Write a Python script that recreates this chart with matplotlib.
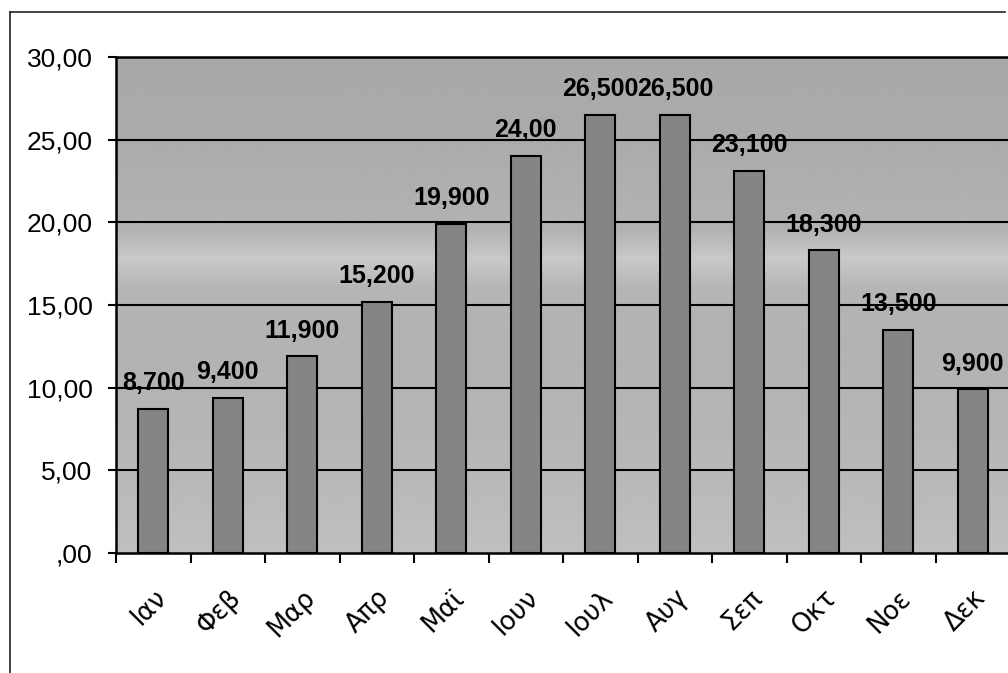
import matplotlib

matplotlib.use("Agg")
import matplotlib.pyplot as plt
import numpy as np
from matplotlib.lines import Line2D

plt.rcParams["font.family"] = ["Liberation Sans", "DejaVu Sans"]

# Data
months = ["Ιαν", "Φεβ", "Μαρ", "Απρ", "Μαϊ", "Ιουν",
          "Ιουλ", "Αυγ", "Σεπ", "Οκτ", "Νοε", "Δεκ"]
values = [8.7, 9.4, 11.9, 15.2, 19.9, 24.0, 26.5, 26.5, 23.1, 18.3, 13.5, 9.9]
value_labels = ["8,700", "9,400", "11,900", "15,200", "19,900", "24,00",
                "26,500", "26,500", "23,100", "18,300", "13,500", "9,900"]
y_ticks = [0, 5, 10, 15, 20, 25, 30]
y_tick_labels = [",00", "5,00", "10,00", "15,00", "20,00", "25,00", "30,00"]

fig = plt.figure(figsize=(10.08, 6.73), dpi=100)
ax = fig.add_axes([0.1151, 0.1783, 0.887, 0.737])

# gray gradient backdrop (scanned fill), lighter band around 18
stops = np.array([0, 5, 12, 16, 17.8, 19.5, 25, 30])
greys = np.array([0.75, 0.72, 0.70, 0.71, 0.79, 0.70, 0.67, 0.66])
yy = np.linspace(0, 30, 300)
col = np.interp(yy, stops, greys)
img = np.repeat(col[:, None], 2, axis=1)
ax.imshow(img, cmap="gray", vmin=0, vmax=1, origin="lower", aspect="auto",
          extent=(-0.5, 11.5, 0, 30), zorder=0, interpolation="bilinear")

ax.set_xlim(-0.5, 11.5)
ax.set_ylim(0, 30)

# gridlines
for y in y_ticks[1:]:
    ax.axhline(y, color="black", linewidth=1.5, zorder=1)

x = np.arange(len(months))
bars = ax.bar(x, values, width=0.4, color="#858585", edgecolor="black",
              linewidth=1.5, zorder=2)

for bar, lab in zip(bars, value_labels):
    ax.annotate(lab, xy=(bar.get_x() + bar.get_width() / 2, bar.get_height()),
                xytext=(0, 13.5), textcoords="offset points", ha="center",
                va="baseline", fontsize=18, fontweight="bold", color="black",
                zorder=3, annotation_clip=False)

# y axis
ax.set_yticks(y_ticks)
ax.set_yticklabels(y_tick_labels, fontsize=19)
ax.tick_params(axis="y", direction="out", length=6, width=1.5, pad=11)

# x axis: labels at centres, tick marks at category boundaries
ax.set_xticks(x)
ax.set_xticklabels(months, fontsize=18.5, rotation=45, ha="right",
                   va="top", rotation_mode="anchor", family="DejaVu Sans")
ax.tick_params(axis="x", which="major", length=0, pad=23)
ax.set_xticks(np.arange(-0.5, 11.5, 1.0), minor=True)
ax.tick_params(axis="x", which="minor", direction="out", length=7, width=1.5)

for side in ("left", "bottom", "top"):
    ax.spines[side].set_linewidth(1.8)
    ax.spines[side].set_color("black")
ax.spines["right"].set_visible(False)

# outer chart frame (only left and top edges are in the scan)
fig.add_artist(Line2D([10 / 1008, 10 / 1008], [0, 1 - 12 / 673],
                      transform=fig.transFigure, color="#222222", linewidth=1.2))
fig.add_artist(Line2D([10 / 1008, 1005 / 1008], [1 - 12 / 673, 1 - 12 / 673],
                      transform=fig.transFigure, color="#222222", linewidth=1.2))

fig.savefig("out.png", dpi=100)
